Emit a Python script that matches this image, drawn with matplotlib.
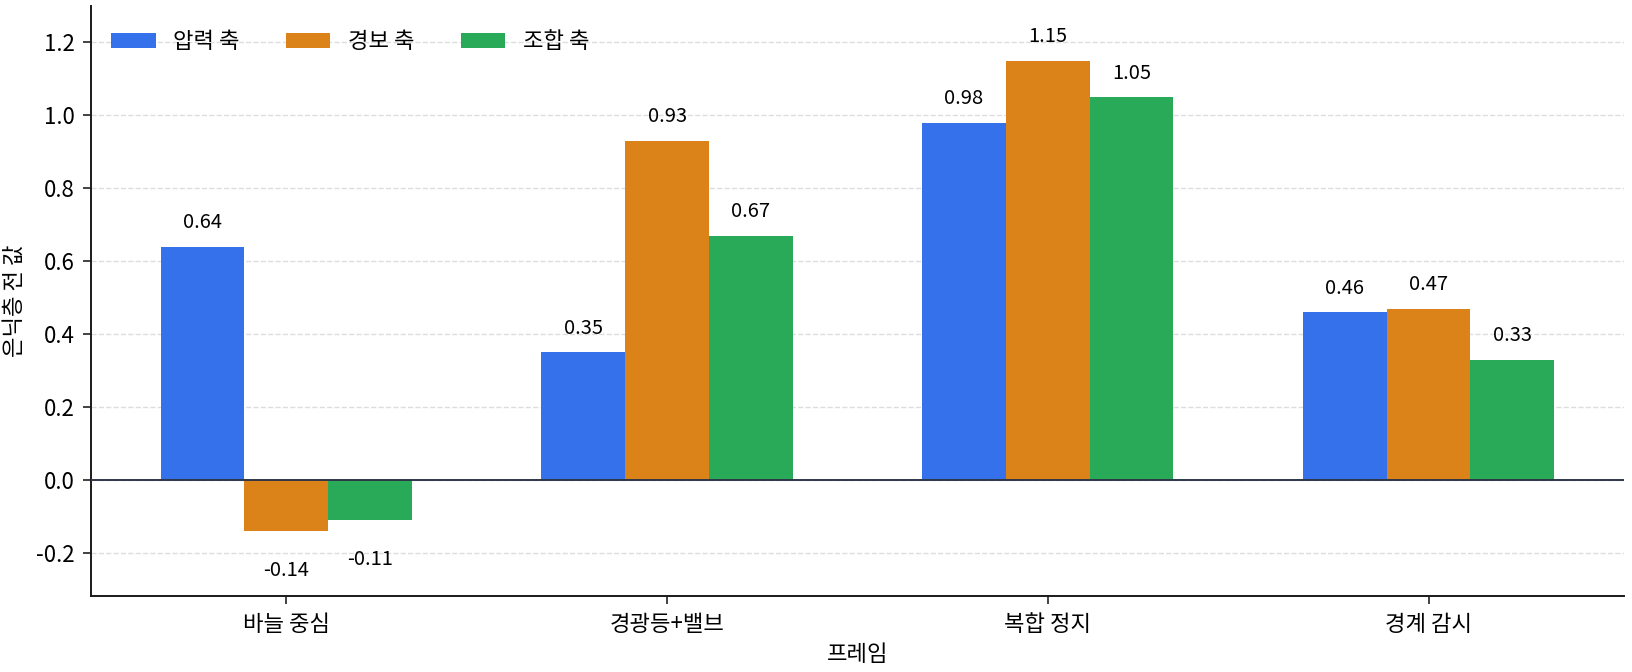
import matplotlib
matplotlib.use("Agg")
import matplotlib.pyplot as plt
import numpy as np

plt.rcParams['font.family'] = ['Noto Sans CJK KR', 'DejaVu Sans']
plt.rcParams['axes.unicode_minus'] = False

categories = ["바늘 중심", "경광등+밸브", "복합 정지", "경계 감시"]
series_names = ["압력 축", "경보 축", "조합 축"]
pressure = [0.64, 0.35, 0.98, 0.46]
alarm = [-0.14, 0.93, 1.15, 0.47]
combined = [-0.11, 0.67, 1.05, 0.33]
colors = ["#3571EA", "#DB8219", "#29AA58"]

fig = plt.figure(figsize=(16.32, 6.72), dpi=100)
ax = fig.add_axes([0.0558, 0.1131, 0.9392, 0.878])

x = np.arange(len(categories))
w = 0.22
for i, (vals, name, c) in enumerate(zip([pressure, alarm, combined], series_names, colors)):
    pos = x + (i - 1) * w
    ax.bar(pos, vals, width=w, color=c, label=name, zorder=3)
    for px, v in zip(pos, vals):
        if v >= 0:
            ax.text(px, v + 0.066, f"{v:.2f}", ha='center', va='center', fontsize=14.5)
        else:
            ax.text(px, v - 0.109, f"{v:.2f}", ha='center', va='center', fontsize=14.5)

ax.axhline(0, color='#2d3748', linewidth=1.4, zorder=4)
ax.set_ylim(-0.318, 1.30)
ax.set_yticks([-0.2, 0.0, 0.2, 0.4, 0.6, 0.8, 1.0, 1.2])
ax.yaxis.grid(True, linestyle='--', color='#dddddd', linewidth=1, zorder=0)
ax.set_axisbelow(True)
ax.set_xticks(x)
ax.set_xticklabels(categories, fontsize=16)
ax.tick_params(axis='y', labelsize=16)
ax.tick_params(axis='both', pad=6, length=6, width=1.2, color='#222222')
ax.set_xlabel("프레임", fontsize=16, labelpad=5)
ax.set_ylabel("은닉층 전 값", fontsize=16, labelpad=7)
for s in ['top', 'right']:
    ax.spines[s].set_visible(False)
for s in ['left', 'bottom']:
    ax.spines[s].set_linewidth(1.4)
    ax.spines[s].set_color('#1a1a1a')
ax.legend(loc='upper left', ncol=3, frameon=False, fontsize=16, handlelength=2.0,
          handletextpad=0.8, columnspacing=2.07, bbox_to_anchor=(0.0, 0.993))

fig.savefig("out.png", dpi=100)
